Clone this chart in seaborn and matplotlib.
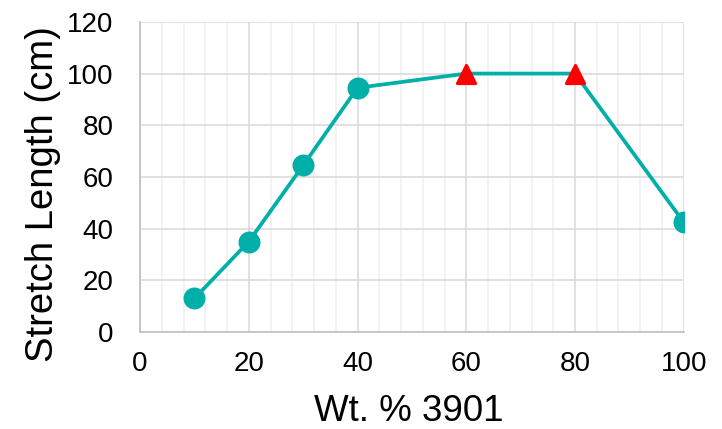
import matplotlib
matplotlib.use("Agg")
import matplotlib.pyplot as plt
from matplotlib.ticker import MultipleLocator
import seaborn as sns
import pandas as pd

# data
wt_pct = [10, 20, 30, 40, 60, 80, 100]
stretch_cm = [13, 35, 64.5, 94.5, 100, 100, 42.5]
maxed_out = [False, False, False, False, True, True, False]  # triangles = hit the 100 cm limit

df = pd.DataFrame({"wt": wt_pct, "stretch": stretch_cm, "maxed": maxed_out})

sns.set_style("white")
plt.rcParams["font.family"] = ["Liberation Sans", "DejaVu Sans"]

teal = "#00B0A8"
fig, ax = plt.subplots(figsize=(7.22, 4.29), dpi=100)
fig.subplots_adjust(left=0.194, right=0.947, bottom=0.226, top=0.949)

sns.lineplot(data=df, x="wt", y="stretch", color=teal, linewidth=2.7, ax=ax, zorder=3)
sns.scatterplot(data=df[~df.maxed], x="wt", y="stretch", color=teal, s=250,
                marker="o", edgecolor=teal, linewidth=0, ax=ax, zorder=4)
sns.scatterplot(data=df[df.maxed], x="wt", y="stretch", color="#FF0000", s=170,
                marker="^", edgecolor="#FF0000", linewidth=2.2, ax=ax, zorder=4)
ax.collections[-1].set_joinstyle("round")

ax.set_xlim(0, 100)
ax.set_ylim(0, 120)
ax.xaxis.set_major_locator(MultipleLocator(20))
ax.xaxis.set_minor_locator(MultipleLocator(4))
ax.yaxis.set_major_locator(MultipleLocator(20))

ax.grid(which="major", axis="both", color="#d9d9d9", linewidth=1.1)
ax.grid(which="minor", axis="x", color="#efefef", linewidth=1.1)
ax.set_axisbelow(True)

for side in ["top", "right"]:
    ax.spines[side].set_visible(False)
for side in ["left", "bottom"]:
    ax.spines[side].set_color("#bfbfbf")
    ax.spines[side].set_linewidth(1.2)

ax.tick_params(which="both", length=0, labelsize=20, colors="black")
ax.tick_params(axis="x", pad=14)
ax.tick_params(axis="y", pad=19)
ax.set_xlabel("Wt. % 3901", fontsize=26.5, color="black")
ax.set_ylabel("Stretch Length (cm)", fontsize=27.5, color="black")
ax.xaxis.set_label_coords(0.495, -0.2)
ax.yaxis.set_label_coords(-0.145, 0.445)

fig.savefig("out.png", dpi=100)
